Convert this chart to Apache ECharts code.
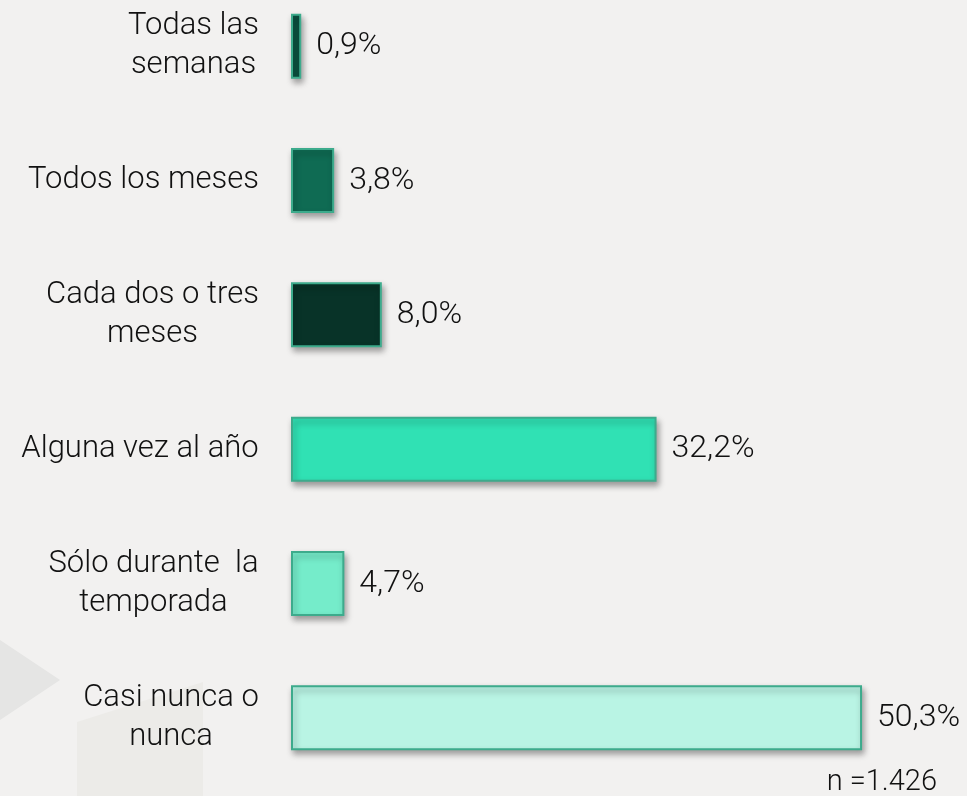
<!DOCTYPE html>
<html>
<head>
<meta charset="utf-8">
<script src="https://cdn.jsdelivr.net/npm/echarts@6/dist/echarts.min.js"></script>
<style>
  html, body { margin: 0; padding: 0; background: #f2f1f0; overflow: hidden; }
  /* chart is taller than the window and shifted up so the first band starts above the top edge */
  #chart { width: 967px; height: 817px; margin-top: -21px; }
</style>
</head>
<body>
<div id="chart"></div>
<script>
// Data
var categories = [
  "Todas las\nsemanas",
  "Todos los meses",
  "Cada dos o tres\nmeses",
  "Alguna vez al año",
  "Sólo durante  la\ntemporada",
  "Casi nunca o\nnunca"
];
var values = [0.9, 3.8, 8.0, 32.2, 4.7, 50.3];
var barColors = ["#0b5140", "#0f6b53", "#083328", "#30e1b4", "#75ecca", "#b9f4e4"];
var sampleNote = "n =1.426";

var FONT = "Roboto";
var FONT_SIZE = 31;
var SHIFT = 21; // offset from margin-top

// measure longest line so multi-line labels are centred inside a right-aligned block
var ctx = document.createElement("canvas").getContext("2d");
ctx.font = "300 " + FONT_SIZE + "px " + FONT;
var rich = {};
categories.forEach(function (c, i) {
  var w = 0;
  c.split("\n").forEach(function (line) {
    w = Math.max(w, ctx.measureText(line).width);
  });
  rich["l" + i] = {
    width: Math.ceil(w),
    align: "center",
    fontFamily: FONT,
    fontWeight: 300,
    fontSize: FONT_SIZE,
    color: "#111",
    lineHeight: 39
  };
});

var chart = echarts.init(document.getElementById("chart"));

var option = {
  backgroundColor: "#f2f1f0",
  animation: false,
  graphic: [
    // faint background decorations
    {
      type: "polygon",
      z: -10,
      shape: { points: [[0, 640 + SHIFT], [60, 680 + SHIFT], [0, 720 + SHIFT]] },
      style: { fill: "#e5e5e4" }
    },
    {
      type: "polygon",
      z: -10,
      shape: { points: [[77, 722 + SHIFT], [203, 682 + SHIFT], [203, 817], [77, 817]] },
      style: { fill: "#ecebe8" }
    },
    {
      type: "text",
      right: 30,
      top: 768 + SHIFT,
      style: {
        text: sampleNote,
        fontFamily: FONT,
        fontWeight: 300,
        fontSize: 29,
        fill: "#111"
      }
    }
  ],
  grid: { left: 291, top: 0, width: 624.4, height: 806 },
  xAxis: {
    type: "value",
    min: 0,
    max: 55,
    show: false
  },
  yAxis: {
    type: "category",
    inverse: true,
    data: categories,
    axisLine: { show: false },
    axisTick: { show: false },
    axisLabel: {
      margin: 32,
      interval: 0,
      formatter: function (value, index) {
        return value.split("\n").map(function (line) {
          return "{l" + index + "|" + line + "}";
        }).join("\n");
      },
      rich: rich
    }
  },
  series: [
    {
      type: "bar",
      barWidth: 65,
      data: values.map(function (v, i) {
        return { value: v, itemStyle: { color: barColors[i] } };
      }),
      itemStyle: {
        borderColor: "#3dab8c",
        borderWidth: 2,
        shadowColor: "rgba(0,0,0,0.35)",
        shadowBlur: 6,
        shadowOffsetX: 2,
        shadowOffsetY: 4
      },
      label: {
        show: true,
        position: "right",
        distance: 15,
        fontFamily: FONT,
        fontWeight: 300,
        fontSize: 32,
        color: "#111",
        formatter: function (p) {
          return p.value.toFixed(1).replace(".", ",") + "%";
        }
      }
    }
  ]
};

chart.setOption(option);
</script>
</body>
</html>
